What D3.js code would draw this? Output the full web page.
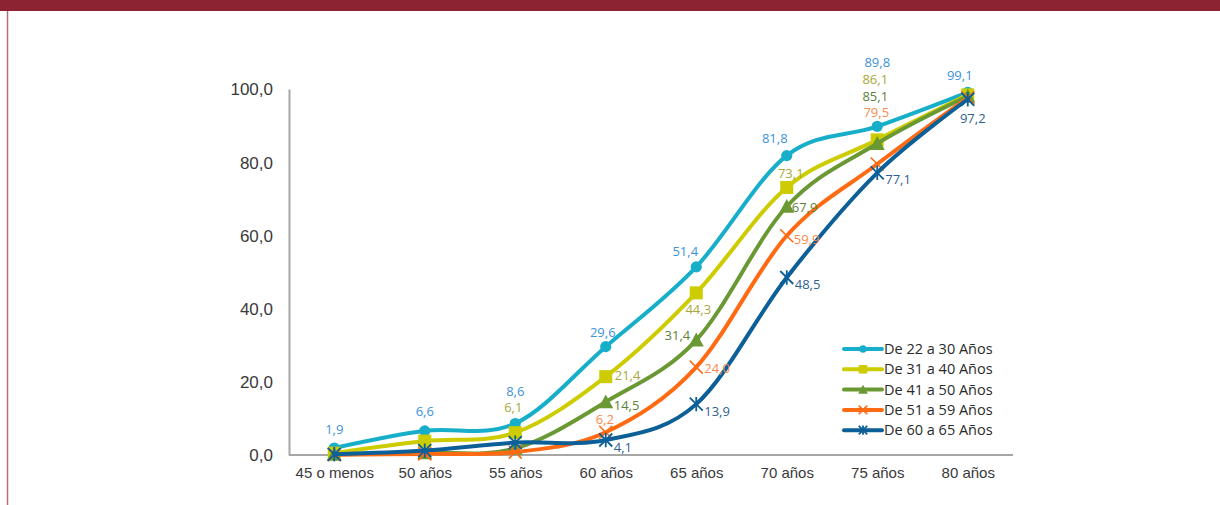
<!DOCTYPE html>
<html>
<head>
<meta charset="utf-8">
<script src="https://cdn.jsdelivr.net/npm/d3@7"></script>
<style>
  html, body { margin: 0; padding: 0; background: #fff; }
  svg { display: block; font-family: "Open Sans", "DejaVu Sans", sans-serif; }
</style>
</head>
<body>
<svg id="chart" width="1220" height="505"></svg>
<script>
// Categories (x axis) and y ticks
const categories = ["45 o menos", "50 años", "55 años", "60 años", "65 años", "70 años", "75 años", "80 años"];
const yTicks = [0, 20, 40, 60, 80, 100];

// Series names
const seriesNames = ["De 22 a 30 Años", "De 31 a 40 Años", "De 41 a 50 Años", "De 51 a 59 Años", "De 60 a 65 Años"];

// Cumulative percentages per age band
const s22a30 = [1.9, 6.6, 8.6, 29.6, 51.4, 81.8, 89.8, 99.1];
const s31a40 = [0.5, 3.8, 6.1, 21.4, 44.3, 73.1, 86.1, 98.4];
const s41a50 = [0.2, 0.6, 1.8, 14.5, 31.4, 67.9, 85.1, 98.0];
const s51a59 = [0.1, 0.3, 0.8, 6.2, 24.0, 59.9, 79.5, 97.6];
const s60a65 = [0.2, 1.2, 3.4, 4.1, 13.9, 48.5, 77.1, 97.2];

// Which points carry a value label, per series
const labelShown = [
  [1, 1, 1, 1, 1, 1, 1, 1],
  [0, 0, 1, 1, 1, 1, 1, 0],
  [0, 0, 0, 1, 1, 1, 1, 0],
  [0, 0, 0, 1, 1, 1, 1, 0],
  [0, 0, 0, 1, 1, 1, 1, 1]
];

const seriesValues = [s22a30, s31a40, s41a50, s51a59, s60a65];

// ---- styling ----
const lineColors  = ["#17AECA", "#CCCC00", "#6A9933", "#FF6A13", "#0C5F97"];
const labelColors = ["#3C92DA", "#A8A83A", "#5E7F37", "#F88A4E", "#2E5F91"];
const markerTypes = ["circle", "square", "triangle", "x", "star"];

// Label placement relative to each point: [dx, dy, anchor]
const labelPlace = [
  [[0, -19, "middle"], [0, -19, "middle"], [0, -32, "middle"], [-3, -14, "middle"], [-11, -15, "middle"], [-12, -17, "middle"], [0, -64, "middle"], [-8, -17, "middle"]],
  [null, null, [-2, -25, "middle"], [9, -1, "start"], [2, 17, "middle"], [4, -14, "middle"], [-2, -60.5, "middle"], null],
  [null, null, null, [8, 4, "start"], [-6, -5, "end"], [5, 1, "start"], [-2, -47, "middle"], null],
  [null, null, null, [-1, -13, "middle"], [8, 1, "start"], [7, 4, "start"], [-1, -51.5, "middle"], null],
  [null, null, null, [8, 7, "start"], [8, 7, "start"], [8, 7, "start"], [8, 7, "start"], [5, 19, "middle"]]
];

const svg = d3.select("#chart");

// Header band and frame edge
svg.append("rect").attr("x", 0).attr("y", 0).attr("width", 1220).attr("height", 11).attr("fill", "#8C2332");
svg.append("line").attr("x1", 7.5).attr("x2", 7.5).attr("y1", 11).attr("y2", 505)
  .attr("stroke", "#B76E79").attr("stroke-width", 1.5);

const x = d3.scalePoint().domain(categories).range([289, 1013]).padding(0.5);
const y = d3.scaleLinear().domain([0, 100]).range([455, 89]);

// Y axis
const yAxis = svg.append("g").attr("transform", "translate(289,0)")
  .call(d3.axisLeft(y).tickValues(yTicks).tickSize(0).tickPadding(16)
    .tickFormat(d => d3.format(".1f")(d).replace(".", ",")));
yAxis.select(".domain").attr("stroke", "#A6A6A6").attr("stroke-width", 2);
yAxis.selectAll("text").attr("fill", "#3A3A3A").style("font-size", "17px").attr("dy", "0.35em");

// X axis
const xAxis = svg.append("g").attr("transform", "translate(0,455)")
  .call(d3.axisBottom(x).tickSize(0).tickPadding(12));
xAxis.select(".domain").attr("stroke", "#A6A6A6").attr("stroke-width", 2).attr("d", "M289,0H1013");
xAxis.selectAll("text").attr("fill", "#3A3A3A").style("font-size", "15px");

// Marker drawing helper
function drawMarker(g, type, color, s) {
  if (type === "circle") {
    g.append("circle").attr("r", 5.6 * s).attr("fill", color);
  } else if (type === "square") {
    g.append("rect").attr("x", -6.5 * s).attr("y", -6.5 * s).attr("width", 13 * s).attr("height", 13 * s).attr("fill", color);
  } else if (type === "triangle") {
    const h = 7.5 * s;
    g.append("path").attr("d", `M0,${-h}L${h},${h * 0.85}L${-h},${h * 0.85}Z`).attr("fill", color);
  } else if (type === "x") {
    const h = 6.5 * s;
    g.append("path").attr("d", `M${-h},${-h}L${h},${h}M${-h},${h}L${h},${-h}`)
      .attr("stroke", color).attr("stroke-width", 1.6).attr("fill", "none");
  } else if (type === "star") {
    const h = 6.5 * s;
    g.append("path").attr("d", `M${-h},${-h}L${h},${h}M${-h},${h}L${h},${-h}M0,${-h * 1.1}L0,${h * 1.1}`)
      .attr("stroke", color).attr("stroke-width", 1.8).attr("fill", "none");
  }
}

const line = d3.line()
  .x((d, i) => x(categories[i]))
  .y(d => y(d))
  .curve(d3.curveCardinal.tension(0));

// Lines and markers
seriesValues.forEach((vals, si) => {
  const g = svg.append("g");
  g.append("path").datum(vals).attr("d", line)
    .attr("fill", "none").attr("stroke", lineColors[si]).attr("stroke-width", 4)
    .attr("stroke-linejoin", "round").attr("stroke-linecap", "round");
  vals.forEach((v, i) => {
    const m = g.append("g").attr("transform", `translate(${x(categories[i])},${y(v)})`);
    drawMarker(m, markerTypes[si], lineColors[si], 1);
  });
});

// Value labels
const fmt = v => d3.format(".1f")(v).replace(".", ",");
seriesValues.forEach((vals, si) => {
  vals.forEach((v, i) => {
    if (!labelShown[si][i]) return;
    const p = labelPlace[si][i];
    svg.append("text")
      .attr("x", x(categories[i]) + p[0])
      .attr("y", y(v) + p[1])
      .attr("dy", "0.35em")
      .attr("text-anchor", p[2])
      .attr("fill", labelColors[si])
      .style("font-size", "13px")
      .text(fmt(v));
  });
});

// Legend
const legend = svg.append("g").attr("transform", "translate(843,349)");
seriesNames.forEach((name, si) => {
  const row = legend.append("g").attr("transform", `translate(0,${si * 20.3})`);
  row.append("line").attr("x1", 1).attr("x2", 39).attr("y1", 0).attr("y2", 0)
    .attr("stroke", lineColors[si]).attr("stroke-width", 4).attr("stroke-linecap", "round");
  const m = row.append("g").attr("transform", "translate(20,0)");
  drawMarker(m, markerTypes[si], lineColors[si], 0.65);
  row.append("text").attr("x", 41).attr("y", 0).attr("dy", "0.35em")
    .attr("fill", "#2A2A2A").style("font-size", "14.5px").text(name);
});
</script>
</body>
</html>
